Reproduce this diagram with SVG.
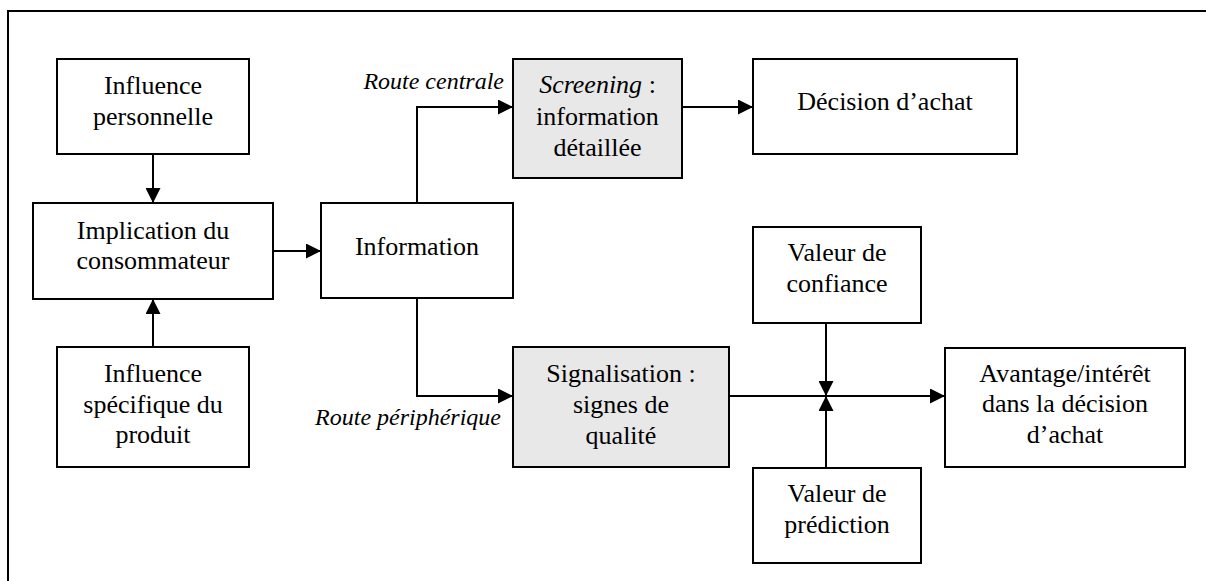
<svg xmlns="http://www.w3.org/2000/svg" width="1206" height="581" viewBox="0 0 1206 581">
<style>
.box{fill:#fff;stroke:#000;stroke-width:2}
.gray{fill:#e8e8e8;stroke:#000;stroke-width:2}
.t{font-family:"Liberation Serif","Times New Roman",serif;font-size:26px;fill:#000;text-anchor:middle}
.it{font-family:"Liberation Serif","Times New Roman",serif;font-size:24px;font-style:italic;fill:#000}
.c{fill:none;stroke:#000;stroke-width:2}
</style>
<defs>
<marker id="ah" markerUnits="userSpaceOnUse" markerWidth="15" markerHeight="15" refX="15" refY="7.5" orient="auto">
<path d="M0,0 L15,7.5 L0,15 z" fill="#000"/>
</marker>
</defs>
<rect width="1206" height="581" fill="#fff"/>
<path d="M8,581 L8,11 L1206,11" fill="none" stroke="#000" stroke-width="2"/>
<g id="connectors">
<path class="c" d="M153,154 L153,203" marker-end="url(#ah)"/>
<path class="c" d="M153,347 L153,299" marker-end="url(#ah)"/>
<path class="c" d="M273,251 L321,251" marker-end="url(#ah)"/>
<path class="c" d="M417,203 L417,107 L513,107" marker-end="url(#ah)"/>
<path class="c" d="M682,107 L753,107" marker-end="url(#ah)"/>
<path class="c" d="M417,298 L417,396 L513,396" marker-end="url(#ah)"/>
<path class="c" d="M729,396 L945,396" marker-end="url(#ah)"/>
<path class="c" d="M826,323 L826,396" marker-end="url(#ah)"/>
<path class="c" d="M826,468 L826,396" marker-end="url(#ah)"/>
<text class="it" x="504" y="89" text-anchor="end">Route centrale</text>
<text class="it" x="501" y="425" text-anchor="end">Route périphérique</text>
</g>
<g id="influence-personnelle">
<rect class="box" x="57" y="59" width="192" height="95"/>
<text class="t" x="153" y="94">Influence</text>
<text class="t" x="153" y="125">personnelle</text>
</g>
<g id="implication">
<rect class="box" x="33" y="203" width="240" height="96"/>
<text class="t" x="153" y="239">Implication du</text>
<text class="t" x="153" y="269">consommateur</text>
</g>
<g id="influence-specifique">
<rect class="box" x="57" y="347" width="192" height="120"/>
<text class="t" x="153" y="382">Influence</text>
<text class="t" x="153" y="413">spécifique du</text>
<text class="t" x="153" y="443">produit</text>
</g>
<g id="information">
<rect class="box" x="321" y="203" width="192" height="95"/>
<text class="t" x="417" y="255">Information</text>
</g>
<g id="screening">
<rect class="gray" x="513" y="59" width="169" height="119"/>
<text class="t" x="597.5" y="93"><tspan font-style="italic">Screening</tspan> :</text>
<text class="t" x="597.5" y="125">information</text>
<text class="t" x="597.5" y="156">détaillée</text>
</g>
<g id="decision">
<rect class="box" x="753" y="59" width="264" height="95"/>
<text class="t" x="885" y="110">Décision d’achat</text>
</g>
<g id="signalisation">
<rect class="gray" x="513" y="347" width="216" height="120"/>
<text class="t" x="621" y="382">Signalisation :</text>
<text class="t" x="621" y="413">signes de</text>
<text class="t" x="621" y="444">qualité</text>
</g>
<g id="confiance">
<rect class="box" x="753" y="227" width="168" height="96"/>
<text class="t" x="837" y="261">Valeur de</text>
<text class="t" x="837" y="292">confiance</text>
</g>
<g id="prediction">
<rect class="box" x="753" y="468" width="168" height="95"/>
<text class="t" x="837" y="502">Valeur de</text>
<text class="t" x="837" y="533">prédiction</text>
</g>
<g id="avantage">
<rect class="box" x="945" y="348" width="240" height="119"/>
<text class="t" x="1065" y="382">Avantage/intérêt</text>
<text class="t" x="1065" y="412">dans la décision</text>
<text class="t" x="1065" y="443">d’achat</text>
</g>
</svg>
